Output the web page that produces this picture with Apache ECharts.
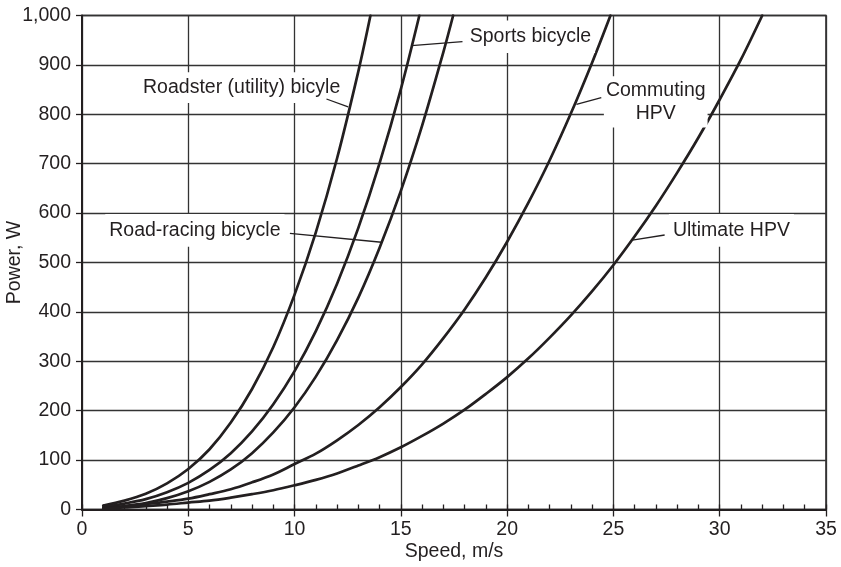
<!DOCTYPE html>
<html>
<head>
<meta charset="utf-8">
<script src="https://cdn.jsdelivr.net/npm/echarts@6/dist/echarts.min.js"></script>
<style>
html,body{margin:0;padding:0;background:#fff;}
#main{width:841px;height:567px;}
</style>
</head>
<body>
<div id="main"></div>
<script>
// ---- data ----
const roadsterSpeed = [1,2,3,4,5,6,7,8,9,10,11,12,13,13.57];
const roadsterPower = [8,18,32,53,82,122,176,244,329,435,561,711,887,1000];

const sportsSpeed = [1,2,3,4,5,6,7,8,9,10,11,12,13,14,15,15.87];
const sportsPower = [5,12,21,35,54,80,114,158,213,280,361,457,570,701,851,1000];

const racingSpeed = [1,2,3,4,5,6,7,8,9,10,11,12,13,14,15,16,17,17.46];
const racingPower = [3,7,13,23,37,56,81,114,156,207,269,343,429,530,645,777,926,1000];

const commutingSpeed = [1,2,3,4,5,6,7,8,9,10,11,12,13,14,15,16,17,18,19,20,21,22,23,24,24.86];
const commutingPower = [3,6,11,16,22,31,41,55,71,92,113,140,171,207,248,294,347,405,470,542,621,707,802,905,1000];

const ultimateSpeed = [1,2,3,4,5,6,7,8,9,10,11,12,13,14,15,16,17,18,19,20,21,22,23,24,25,26,27,28,29,30,31,32];
const ultimatePower = [2,4,7,10,14,18,24,31,39,49,60,73,89,106,126,149,174,202,234,268,306,348,393,442,495,553,615,682,753,830,911,1000];

const xTicks = [0,5,10,15,20,25,30,35];
const yTicks = [0,100,200,300,400,500,600,700,800,900,1000];

// annotation texts and their anchor points (in data units: speed, power)
const labelTexts = ['Roadster (utility) bicyle','Sports bicycle','Commuting\nHPV','Road-racing bicycle','Ultimate HPV'];
const labelAnchors = [[7.51,854],[18.05,957],[26.99,825],[5.31,565],[27.61,565]];
const labelAligns = ['center','left','center','center','left'];
const leaderStarts = [[11.5,831],[15.5,939],[23.26,820],[9.78,559],[25.89,545.5]];
const leaderEnds = [[12.52,815],[17.9,947],[24.43,833.6],[14.09,541],[27.41,555.7]];

const INK = '#231f20';
const FONT = '"Liberation Sans", Arial, sans-serif';

function pairs(xs, ys){ return xs.map((x,i)=>[x, ys[i]]); }

const seriesDefs = [
  ['Roadster (utility) bicyle', roadsterSpeed, roadsterPower],
  ['Sports bicycle', sportsSpeed, sportsPower],
  ['Road-racing bicycle', racingSpeed, racingPower],
  ['Commuting HPV', commutingSpeed, commutingPower],
  ['Ultimate HPV', ultimateSpeed, ultimatePower]
];

const chart = echarts.init(document.getElementById('main'), null, {renderer:'canvas'});

const option = {
  animation: false,
  backgroundColor: '#fff',
  grid: {left: 82, right: 15, top: 15.5, bottom: 57.5, show: true, borderColor: INK, borderWidth: 1.5,
         containLabel: false, outerBoundsMode: 'none'},
  xAxis: [{
    type: 'value', min: xTicks[0], max: xTicks[xTicks.length-1], interval: 5,
    name: 'Speed, m/s', nameLocation: 'middle', nameGap: 32, nameMoveOverlap: false,
    nameTextStyle: {fontFamily: FONT, fontSize: 19.5, color: INK},
    axisLine: {show: true, lineStyle: {color: INK, width: 2}},
    axisTick: {show: true, inside: false, length: 7, lineStyle: {color: INK, width: 1.3}},
    axisLabel: {fontFamily: FONT, fontSize: 19.5, color: INK, margin: 10},
    splitLine: {show: true, lineStyle: {color: '#333', width: 1.3}}
  },{
    type: 'value', min: xTicks[0], max: xTicks[xTicks.length-1], interval: 1, position: 'bottom',
    axisLine: {show: false},
    axisTick: {show: true, inside: true, length: 5, lineStyle: {color: INK, width: 1.3}},
    axisLabel: {show: false},
    splitLine: {show: false}
  }],
  yAxis: {
    type: 'value', min: yTicks[0], max: yTicks[yTicks.length-1], interval: 100,
    name: 'Power, W', nameLocation: 'middle', nameGap: 57, nameMoveOverlap: false,
    nameTextStyle: {fontFamily: FONT, fontSize: 19.5, color: INK},
    axisLine: {show: true, lineStyle: {color: INK, width: 2}},
    axisTick: {show: true, inside: false, length: 6, lineStyle: {color: INK, width: 1.3}},
    axisLabel: {fontFamily: FONT, fontSize: 19.5, color: INK, margin: 11,
      formatter: v => v.toLocaleString('en-US')},
    splitLine: {show: true, lineStyle: {color: '#333', width: 1.3}}
  },
  series: seriesDefs.map(([name, xs, ys]) => ({
    name, type: 'line', xAxisIndex: 0, yAxisIndex: 0,
    data: pairs(xs, ys), smooth: 0.35, showSymbol: false, symbol: 'none',
    lineStyle: {color: INK, width: 2.7, cap: 'round'}, z: 5
  }))
};

chart.setOption(option);

function toPx(p){ return chart.convertToPixel({xAxisIndex: 0, yAxisIndex: 0}, p); }

const labelPads = [[4,4],[5,4],[3,2],[5,4],[5,4]];
const graphics = [];
labelTexts.forEach((t, i) => {
  const a = toPx(labelAnchors[i]);
  graphics.push({
    type: 'text', x: a[0], y: a[1], z: 100,
    style: {
      text: t, font: '19.5px ' + FONT, fill: INK,
      align: labelAligns[i], verticalAlign: 'middle',
      lineHeight: 22.6,
      backgroundColor: '#fff', padding: labelPads[i]
    }
  });
  const s = toPx(leaderStarts[i]);
  const e = toPx(leaderEnds[i]);
  graphics.push({
    type: 'line', z: 101,
    shape: {x1: s[0], y1: s[1], x2: e[0], y2: e[1]},
    style: {stroke: INK, lineWidth: 1.3}
  });
});
chart.setOption({graphic: graphics});
</script>
</body>
</html>
